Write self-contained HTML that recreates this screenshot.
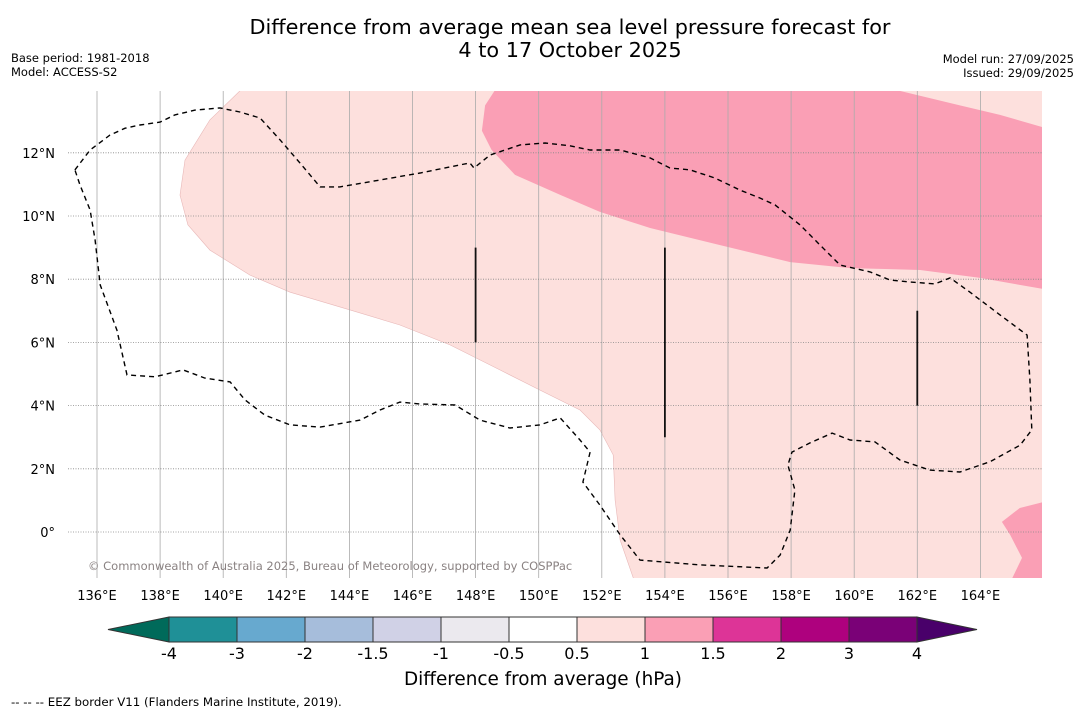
<!DOCTYPE html>
<html><head><meta charset="utf-8"><style>
body{margin:0;background:#fff;width:1085px;height:713px;overflow:hidden;font-family:"DejaVu Sans","Liberation Sans",sans-serif}
svg{position:absolute;left:0;top:0}
</style></head><body>
<svg id="s" width="1085" height="713" xmlns="http://www.w3.org/2000/svg">
<text x="570" y="34" text-anchor="middle" font-size="20.8">Difference from average mean sea level pressure forecast for</text>
<text x="570" y="57" text-anchor="middle" font-size="20.8">4 to 17 October 2025</text>
<text x="11" y="62" font-size="11.5">Base period: 1981-2018</text>
<text x="11" y="76" font-size="11.5">Model: ACCESS-S2</text>
<text x="1074" y="63" font-size="11.5" text-anchor="end">Model run: 27/09/2025</text>
<text x="1074" y="77" font-size="11.5" text-anchor="end">Issued: 29/09/2025</text>
<defs><clipPath id="mc"><rect x="68" y="91" width="974" height="487"/></clipPath></defs>
<g id="map" clip-path="url(#mc)"></g>
<g id="axes"></g>
<g id="cbar"></g>
<text x="11" y="706" font-size="11.8">--  --  -- EEZ border V11 (Flanders Marine Institute, 2019).</text>
</svg>
<script>
const lonTicks=[136,138,140,142,144,146,148,150,152,154,156,158,160,162,164];
const latTicks=[0,2,4,6,8,10,12];
const lightPink=[[140.53,13.96],[139.58,13.04],[138.79,11.77],[138.63,10.66],[138.88,9.72],[139.58,8.92],[140.85,8.13],[142.12,7.59],[144.02,7.03],[145.6,6.55],[147.19,5.92],[148.77,5.13],[150.04,4.49],[151.31,3.86],[151.94,3.23],[152.36,2.44],[152.42,1.01],[152.58,-0.25],[153.05,-1.6],[166.5,-1.6],[166.5,14.2],[140.4,14.2]];
const darkTop=[[148.6,14.2],[148.6,13.96],[148.3,13.5],[148.2,12.7],[148.5,12.1],[149.25,11.3],[150.7,10.66],[151.94,10.13],[153.53,9.62],[155.75,9.08],[157.97,8.54],[159.87,8.35],[162.09,8.29],[163.99,8.04],[166.5,7.6],[166.5,12.66],[164.62,13.2],[163.35,13.5],[161.45,13.96],[161.0,14.2]];
const darkBR=[[166.5,1.08],[165.25,0.76],[164.68,0.32],[164.94,-0.09],[165.32,-0.82],[164.94,-1.6],[166.5,-1.6]];
const eez=[[135.3,11.46],[135.78,12.09],[136.41,12.56],[136.89,12.78],[137.36,12.88],[138.0,12.97],[138.47,13.2],[139.11,13.35],[139.9,13.42],[140.53,13.29],[141.17,13.1],[141.8,12.41],[142.43,11.68],[143.07,10.92],[143.7,10.92],[144.97,11.14],[146.24,11.36],[147.82,11.68],[147.95,11.52],[148.46,11.93],[149.41,12.25],[150.2,12.31],[150.99,12.22],[151.63,12.09],[152.58,12.09],[153.53,11.84],[154.16,11.52],[154.8,11.46],[155.59,11.2],[156.38,10.82],[157.01,10.57],[157.49,10.35],[158.28,9.72],[158.92,9.08],[159.55,8.45],[160.5,8.23],[161.14,7.97],[161.77,7.91],[162.56,7.85],[163.04,8.04],[163.67,7.59],[164.62,6.87],[165.48,6.23],[165.57,4.81],[165.63,3.23],[165.26,2.75],[164.3,2.22],[163.35,1.9],[162.4,1.96],[161.45,2.28],[160.66,2.85],[159.87,2.91],[159.3,3.13],[158.6,2.82],[158.03,2.53],[157.9,2.12],[158.12,1.33],[157.97,0.06],[157.65,-0.73],[157.24,-1.14],[155.11,-1.04],[153.21,-0.89],[152.58,-0.09],[151.94,0.85],[151.4,1.58],[151.63,2.53],[151.31,2.91],[150.68,3.61],[150.04,3.39],[149.09,3.29],[148.14,3.54],[147.35,4.02],[146.24,4.05],[145.6,4.11],[144.97,3.86],[144.34,3.54],[143.07,3.32],[142.12,3.39],[141.32,3.7],[140.69,4.18],[140.22,4.75],[139.42,4.87],[138.73,5.13],[137.84,4.91],[136.95,4.97],[136.63,6.39],[136.1,7.82],[135.94,9.24],[135.78,10.19],[135.46,10.98],[135.3,11.46]];
const bars=[[148,9,6],[154,9,3],[162,7,4]];
const cbLevels=["-4","-3","-2","-1.5","-1","-0.5","0.5","1","1.5","2","3","4"];
const cbColors=["#1f9097","#67a9cf","#a6bddb","#d0d1e6","#ebe9ee","#ffffff","#fde0dd","#fa9fb5","#dd3497","#ae017e","#7a0177"];
const NS="http://www.w3.org/2000/svg";
const X=lon=>97+(lon-136)*31.55, Y=lat=>532-lat*31.6;
function mk(t,a,p){const e=document.createElementNS(NS,t);for(const k in a)e.setAttribute(k,a[k]);p.appendChild(e);return e;}
const map=document.getElementById('map'),axes=document.getElementById('axes'),cb=document.getElementById('cbar');
const pts=a=>a.map(p=>X(p[0]).toFixed(1)+','+Y(p[1]).toFixed(1)).join(' ');
let e=mk('polygon',{points:pts(lightPink),fill:'#fde0dd',stroke:'#e8b8b8','stroke-width':0.6},map);


e=mk('polygon',{points:pts(darkTop),fill:'#fa9fb5'},map);


e=mk('polygon',{points:pts(darkBR),fill:'#fa9fb5'},map);


lonTicks.forEach(l=>{const g=mk('line',{x1:X(l),x2:X(l),y1:91,y2:578,stroke:'#aaa','stroke-width':0.8},map);


const t=mk('text',{x:X(l),y:600,'text-anchor':'middle','font-size':13},axes);t.textContent=l+'°E';

});
latTicks.forEach(l=>{const g=mk('line',{x1:68,x2:1042,y1:Y(l),y2:Y(l),stroke:'#888','stroke-width':0.8,'stroke-dasharray':'1,1.5'},map);


const t=mk('text',{x:55,y:Y(l)+5,'text-anchor':'end','font-size':13},axes);t.textContent=l===0?'0°':l+'°N';

});
e=mk('polyline',{points:pts(eez),fill:'none',stroke:'#000','stroke-width':1.4,'stroke-dasharray':'5,4'},map);


bars.forEach(b=>{const l=mk('line',{x1:X(b[0]),x2:X(b[0]),y1:Y(b[1]),y2:Y(b[2]),stroke:'#111','stroke-width':1.8},map);

});
e=mk('text',{x:88,y:570,'font-size':11.5,fill:'#8a8282'},map);e.textContent='© Commonwealth of Australia 2025, Bureau of Meteorology, supported by COSPPac';


const bx0=169,bw=68,by=617,bh=25;
e=mk('polygon',{points:`108,${by+bh/2} ${bx0},${by} ${bx0},${by+bh}`,fill:'#006a5a',stroke:'#333'},cb);


cbColors.forEach((c,i)=>{const r=mk('rect',{x:bx0+i*bw,y:by,width:bw,height:bh,fill:c,stroke:'#333','stroke-width':1},cb);

});
const xr=bx0+cbColors.length*bw;
e=mk('polygon',{points:`${xr},${by} 977,${by+bh/2} ${xr},${by+bh}`,fill:'#49006a',stroke:'#333'},cb);


cbLevels.forEach((v,i)=>{const t=mk('text',{x:bx0+i*bw,y:659,'text-anchor':'middle','font-size':16},cb);t.textContent=v;

});
e=mk('text',{x:543,y:685,'text-anchor':'middle','font-size':18.4},cb);e.textContent='Difference from average (hPa)';


</script>
</body></html>
